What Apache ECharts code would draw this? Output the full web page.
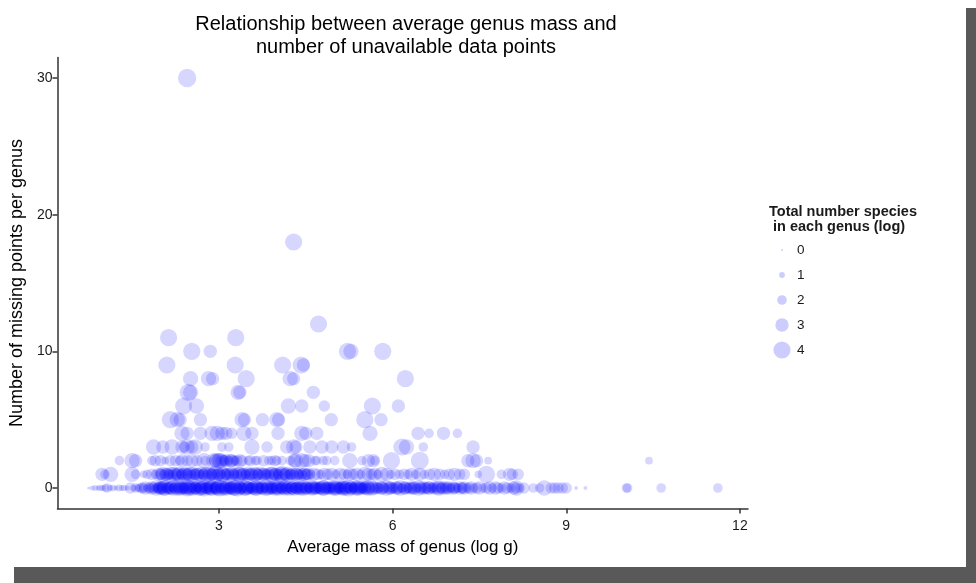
<!DOCTYPE html>
<html>
<head>
<meta charset="utf-8">
<script src="https://cdn.jsdelivr.net/npm/echarts@6/dist/echarts.min.js"></script>
<style>
  html, body { margin: 0; padding: 0; background: #ffffff; }
  #chart { width: 976px; height: 583px; }
</style>
</head>
<body>
<div id="chart"></div>
<script>
// Genera grouped by number of missing data points.
// Each entry: [average genus mass (log g), total species in genus (log)]
const missing0 = [
  [0.75,0.3],[0.81,0.8],[0.86,1],[0.91,0.8],[0.95,1.2],[0.99,1],[1.04,1.5],[1.07,2],[1.12,1],[1.17,1.2],
  [1.22,0.8],[1.27,1.3],[1.32,1],[1.36,1.2],[1.42,0.8],[1.47,2.5],[1.52,1.2],[1.56,2],[1.60,1.5],[1.64,2],
  [1.67,2.5],[1.70,2],[1.73,3],[1.76,1.5],[1.79,2.5],[1.82,2],[1.84,3],[1.87,2.5],[1.90,1.5],[1.92,3.5],
  [1.94,2],[1.96,2.5],[1.98,3],[2.00,2],
  [2.02,3],[2.04,2.5],[2.07,3.5],[2.09,2],[2.12,3],[2.14,2.5],[2.16,3],[2.19,1.5],[2.21,3.5],[2.24,2.5],
  [2.26,3],[2.29,2],[2.31,2.5],[2.33,3.5],[2.36,2.5],[2.38,3],[2.41,2],[2.43,3],[2.45,4],[2.48,2.5],
  [2.50,3],[2.53,2],[2.55,3.5],[2.58,2.5],[2.60,3],[2.62,2],[2.65,3.5],[2.67,2.5],[2.70,3],[2.72,2],
  [2.74,4],[2.77,2.5],[2.79,3],[2.82,2],[2.84,3],[2.86,3.5],[2.89,2.5],[2.91,2],[2.94,3],[2.96,2.5],
  [2.98,3.5],[3.01,4],[3.03,2.5],[3.06,2],[3.08,3],[3.10,2.5],[3.13,3.5],[3.15,2],[3.18,3],[3.20,2.5],
  [3.22,3],[3.25,2],[3.27,3.5],[3.30,2.5],[3.32,4],[3.34,2],[3.37,3],[3.39,2.5],[3.42,3],[3.44,2],
  [3.46,3.5],[3.49,2.5],[3.51,3],[3.54,2],[3.56,2.5],[3.58,3],[3.61,2],[3.63,3.5],[3.66,2.5],[3.68,3],
  [3.70,2],[3.73,2.5],[3.75,3],[3.78,2],[3.80,3.5],[3.82,2.5],[3.85,3],[3.87,2],[3.90,2.5],[3.92,3],
  [3.94,2],[3.97,3.5],[3.99,2.5],[4.02,3],[4.04,2],[4.06,2.5],[4.09,3],[4.11,2],[4.14,3.5],[4.16,2.5],
  [4.18,3],[4.21,2],[4.23,2.5],[4.26,3],[4.28,2],[4.30,3.5],[4.33,2.5],[4.35,3],[4.38,2],[4.40,2.5],
  [4.42,3],[4.45,2],[4.47,3.5],[4.50,2.5],[4.52,3],[4.54,2],[4.57,2.5],[4.59,3],[4.62,2],[4.64,3],
  [4.66,2.5],[4.69,3],[4.71,2],[4.74,2.5],[4.76,3],[4.78,2],[4.81,3.5],[4.83,2.5],[4.86,3],[4.88,2],
  [4.90,2.5],[4.93,3],[4.95,2],[4.98,3],[5.00,2.5],[5.02,3.5],[5.05,2],[5.07,2.5],[5.10,3],[5.12,2],
  [5.14,3.5],[5.17,2.5],[5.19,3],[5.22,2],[5.24,4],[5.26,2.5],[5.29,3],[5.31,2],[5.34,2.5],[5.36,3],
  [5.38,2],[5.41,3.5],[5.43,2.5],[5.46,3],[5.48,2],[5.50,2.5],[5.53,3],[5.55,2],[5.58,3],
  [5.61,2.5],[5.64,3.5],[5.68,2],[5.71,3],[5.75,2.5],[5.78,2],[5.82,3],[5.85,2.5],[5.89,3.5],[5.92,2],
  [5.96,3],[5.99,2.5],[6.03,2],[6.06,3],[6.10,2.5],[6.13,3.5],[6.17,2],[6.20,3],[6.24,2.5],[6.27,2],
  [6.31,3],[6.34,2.5],[6.38,3],[6.41,2],[6.45,3.5],[6.48,2.5],[6.52,2],[6.55,3],[6.59,2.5],[6.62,3],
  [6.66,2],[6.69,2.5],[6.73,3],[6.76,2],[6.80,3.5],[6.83,2.5],[6.87,3],[6.90,2],[6.94,2.5],[6.97,3],
  [7.01,2],[7.05,3],[7.08,2.5],[7.12,2],[7.16,3],[7.20,2.5],[7.24,3],[7.28,2],[7.32,2.5],[7.36,3],
  [7.40,2],[7.45,2.5],
  [7.50,3],[7.56,2],[7.62,2.5],[7.68,3],[7.72,2],[7.78,3],[7.82,2.5],[7.88,2],[7.93,3],[7.98,2.5],
  [8.04,2],[8.09,3],[8.14,3.5],[8.14,2.5],[8.20,2],[8.27,2.5],
  [8.43,2],[8.54,2],[8.62,3.5],[8.74,2.5],[8.80,2.5],[8.86,2.5],[8.93,2.5],[9.00,2.5],[9.17,0.5],[9.33,0.5],
  [10.04,2],[10.06,2],[10.64,2],[11.62,2],
  [1.93,2.5],[1.99,3],[2.05,3.5],[2.11,2.5],[2.17,3],[2.22,2],[2.28,3.5],[2.34,3],[2.39,2.5],[2.44,3],
  [2.49,3.5],[2.54,2.5],[2.59,3],[2.64,2],[2.69,3.5],[2.73,3],[2.78,2.5],[2.83,3],[2.88,3.5],[2.93,2.5],
  [2.97,3],[3.02,2],[3.07,3.5],[3.12,3],[3.17,2.5],[3.21,3],[3.26,3.5],[3.31,2.5],[3.36,3],[3.41,2],
  [3.45,3.5],[3.50,3],[3.55,2.5],[3.60,3],[3.65,3.5],[3.69,2.5],[3.74,3],[3.79,2],[3.84,3.5],[3.89,3],
  [3.93,2.5],[3.98,3],[4.03,3.5],[4.08,2.5],[4.13,3],[4.17,2],[4.22,3.5],[4.27,3],[4.32,2.5],[4.37,3],
  [4.41,3.5],[4.46,2.5],[4.51,3],[4.56,2],[4.61,3.5],[4.65,3],[4.70,2.5],[4.75,3],[4.80,3.5],[4.85,2.5],
  [4.89,3],[4.94,2],[4.99,3.5],[5.04,3],[5.09,2.5],[5.13,3],[5.18,3.5],[5.23,2.5],[5.28,3],[5.33,2],
  [5.37,3.5],[5.42,3],[5.47,2.5],[5.52,3],[5.57,3.5],
  [5.66,3],[5.73,2.5],[5.80,3],[5.87,2],[5.94,3],[6.01,2.5],[6.08,3],[6.15,2],[6.22,3],[6.29,2.5],
  [6.36,3],[6.43,2],[6.50,3],[6.57,2.5],[6.64,3],[6.71,2],[6.78,3],[6.85,2.5],[6.92,3],[6.99,2],
  [7.06,2.5],[7.14,2],[7.22,2.5]
];

const missing1 = [
  [0.98,3],[1.03,2],[1.13,3.5],[1.50,3.5],[1.56,2],[1.70,1.5],[1.76,2],[1.84,2.5],[1.90,2],
  [1.96,3],[1.99,2.5],[2.03,3.5],[2.06,2],[2.10,3],[2.13,2.5],[2.17,3.5],[2.20,2],[2.24,3],[2.27,2.5],
  [2.31,3.5],[2.34,2],[2.38,3],[2.41,3.5],[2.45,2.5],[2.48,3],[2.52,2],[2.55,3.5],[2.59,2.5],[2.62,3],
  [2.66,2],[2.69,3.5],[2.73,2.5],[2.76,3],[2.80,2],[2.83,3.5],[2.87,2.5],[2.90,3],[2.94,4],[2.97,2.5],
  [3.01,3],[3.04,2],[3.08,3.5],[3.11,2.5],[3.15,3],[3.18,2],[3.22,3.5],[3.25,2.5],[3.29,3],[3.32,2],
  [3.36,3.5],[3.39,2.5],[3.43,3],[3.46,2],[3.50,3.5],[3.53,2.5],[3.57,3],[3.60,2],[3.64,3],[3.67,2.5],
  [3.71,3.5],[3.74,2],[3.78,3],[3.81,2.5],[3.85,3],[3.88,2],[3.92,3.5],[3.95,2.5],[3.99,3],[4.02,2],
  [4.06,3.5],[4.09,4],[4.13,2.5],[4.16,3],[4.20,2],[4.23,2.5],[4.27,3],[4.30,2],[4.34,3],[4.37,2.5],
  [4.41,3],[4.44,2],[4.48,3],[4.51,2.5],[4.55,3],[4.58,2],
  [4.64,3],[4.70,2.5],[4.76,2],[4.82,3],[4.88,2.5],[4.95,3],[5.02,2],[5.09,3],[5.16,2.5],[5.22,2],
  [5.26,3],[5.32,2.5],[5.38,3],[5.45,2],[5.52,3.5],[5.58,3],[5.64,2.5],[5.69,3],[5.75,2],[5.81,3.5],
  [5.90,3],[5.97,2],[6.04,2.5],[6.12,2],[6.20,2.5],[6.27,2],[6.33,3],[6.40,2],[6.47,3],[6.55,2],
  [6.64,2.5],[6.72,3],[6.81,2.5],[6.90,2],[6.98,2.5],[7.07,3],[7.16,2.5],[7.24,2.5],
  [7.48,1.5],[7.62,4],[7.88,2],[8.02,3],[8.07,2.5],[8.17,2.5],
  [2.01,2.5],[2.08,3],[2.15,2],[2.22,3.5],[2.29,3],[2.36,2.5],[2.43,3],[2.50,3.5],[2.57,2.5],[2.64,3],
  [2.71,2],[2.78,3.5],[2.85,3],[2.92,2.5],[2.99,3],[3.06,3.5],[3.13,2.5],[3.20,3],[3.27,2],[3.34,3.5],
  [3.41,3],[3.48,2.5],[3.55,3],[3.62,3.5],[3.69,2.5],[3.76,3],[3.83,2],[3.90,3.5],[3.97,3],[4.04,2.5],
  [4.11,3],[4.18,3.5],[4.25,2.5],[4.32,3],[4.39,2],[4.46,3],[4.53,2.5]
];

const missing2 = [
  [1.28,2],[1.50,3.5],[1.56,3],[1.84,2],[1.90,2.5],[1.99,2.5],[2.07,1.5],[2.16,2.5],[2.25,2.5],[2.33,2],
  [2.36,3],[2.45,2.5],[2.53,3],[2.62,2.5],[2.74,3.5],[2.76,2],[2.91,3.5],[2.94,3],[2.96,3.5],[3.00,3.5],
  [3.02,3.5],[3.05,3],[3.08,2.5],[3.11,2.5],[3.13,3],[3.17,2],[3.20,3],[3.22,3],[3.25,2.5],[3.28,2],
  [3.31,2.5],[3.36,3],[3.40,2.5],[3.51,2],[3.54,2.5],[3.63,2],[3.66,2],[3.77,2.5],[3.86,2],[3.91,2],
  [3.97,2.5],[4.00,2],[4.09,2],[4.23,2],[4.31,3],[4.32,3.5],[4.43,3.5],[4.49,3],[4.55,3],[4.66,2],
  [4.69,2],[4.80,2],[4.86,2],[5.00,2],[5.26,3.5],[5.47,2],[5.58,3],[5.67,3],[5.69,2],[5.98,4],
  [6.47,4.2],[7.30,3],[7.39,3.5],[7.45,3],[7.65,1.5],[10.43,1.5]
];

const missing3 = [
  [1.87,3.5],[2.03,3],[2.19,3.5],[2.36,3],[2.40,2.5],[2.45,3.5],[2.53,3],[2.59,3.5],[2.76,2],[3.05,2],
  [3.17,2],[3.57,3.5],[3.83,2.5],[4.17,3],[4.29,3.5],[4.33,3],[4.57,3],[4.78,3],[4.95,3],[5.15,3],
  [5.29,2],[6.16,4],[6.24,3.5],[6.53,2],[7.39,3]
];

const missing4 = [
  [2.36,3.5],[2.45,3],[2.68,3],[2.88,3.5],[2.97,3.5],[3.05,3],[3.12,3],[3.22,2.5],[3.43,3.5],[3.57,3],
  [4.02,3],[4.43,3.5],[4.50,3],[4.69,3],[5.61,3.5],[6.44,3],[6.63,2],[6.88,3],[7.12,2]
];

const missing5 = [
  [2.16,4],[2.28,3.5],[2.33,3],[2.68,3],[3.40,3.5],[3.44,3],[3.75,3],[4.00,3.5],[4.03,3],[4.94,3],
  [5.52,4],[5.80,3]
];

const missing6 = [[2.39,4],[2.61,3.5],[4.20,3.5],[4.43,3],[4.82,2.5],[5.65,4],[6.10,3]];
const missing7 = [[2.47,4],[2.51,3.5],[3.33,3.5],[3.36,3],[4.63,3]];
const missing8 = [[2.51,3.5],[2.82,3.5],[2.89,3],[3.47,4],[4.23,3.5],[4.29,3],[6.22,4]];
const missing9 = [[2.10,4],[3.28,4],[4.10,4],[4.42,4],[4.46,3]];
const missing10 = [[2.53,4],[2.85,3],[5.22,4],[5.28,3.5],[5.83,4]];
const missing11 = [[2.13,4],[3.29,4]];
const missing12 = [[4.72,4]];
const missing18 = [[4.29,4]];
const missing30 = [[2.45,4.3]];

const rows = [
  [0, missing0], [1, missing1], [2, missing2], [3, missing3], [4, missing4], [5, missing5],
  [6, missing6], [7, missing7], [8, missing8], [9, missing9], [10, missing10], [11, missing11],
  [12, missing12], [18, missing18], [30, missing30]
];

const xTicks = [3, 6, 9, 12];
const yTicks = [0, 10, 20, 30];
const legendLevels = [0, 1, 2, 3, 4];

// Marker diameter (px) for a log species count
const sizeOf = s => 2 + 3.8 * s;
const pointColor = 'rgba(0,0,255,0.2)';
const font = '"Liberation Sans", Arial, sans-serif';
const ink = '#1a1a1a';

const points = [];
rows.forEach(([missing, list]) => {
  list.forEach(([mass, species]) => points.push([mass, missing, species]));
});

const chart = echarts.init(document.getElementById('chart'), null, { renderer: 'canvas' });

const legendGraphics = [
  {
    type: 'text', left: 769, top: 204,
    style: {
      text: 'Total number species\n in each genus (log)',
      font: 'bold 14.5px ' + font, fill: ink, lineHeight: 15
    }
  }
];
legendLevels.forEach((lv, i) => {
  const cy = 250 + i * 25;
  legendGraphics.push({
    type: 'circle', shape: { cx: 782, cy: cy, r: sizeOf(lv) / 2 },
    style: { fill: pointColor }
  });
  legendGraphics.push({
    type: 'text', x: 797, y: cy,
    style: { text: String(lv), font: '13.5px ' + font, fill: ink, verticalAlign: 'middle' }
  });
});

// frame shadow along the right and bottom edges
const frameGraphics = [
  { type: 'rect', shape: { x: 966, y: 8, width: 10, height: 575 }, style: { fill: '#595959' }, z: 100 },
  { type: 'rect', shape: { x: 14, y: 567, width: 962, height: 16 }, style: { fill: '#595959' }, z: 100 }
];

chart.setOption({
  animation: false,
  backgroundColor: '#ffffff',
  title: {
    text: 'Relationship between average genus mass and\nnumber of unavailable data points',
    left: 401, top: 8, textAlign: 'center',
    textStyle: { fontFamily: font, fontSize: 20, fontWeight: 'normal', color: '#000', lineHeight: 23 }
  },
  grid: { left: 55, right: 228, top: 57.5, bottom: 74.5, containLabel: false },
  xAxis: {
    type: 'value', min: 0.21, max: 12.14,
    name: 'Average mass of genus (log g)', nameLocation: 'middle', nameGap: 29,
    nameTextStyle: { fontFamily: font, fontSize: 17, color: '#000' },
    axisLine: { onZero: false, lineStyle: { color: '#333', width: 1.5 } },
    axisTick: { show: true, length: 5, customValues: xTicks, lineStyle: { color: '#333', width: 1.5 } },
    axisLabel: { customValues: xTicks, fontFamily: font, fontSize: 14, color: ink, margin: 11 },
    splitLine: { show: false }
  },
  yAxis: {
    type: 'value', min: -1.5, max: 31.5,
    name: 'Number of missing points per genus', nameLocation: 'middle', nameGap: 29,
    nameTextStyle: { fontFamily: font, fontSize: 18, color: '#000' },
    axisLine: { onZero: false, lineStyle: { color: '#333', width: 1.5 } },
    axisTick: { show: true, length: 5, customValues: yTicks, lineStyle: { color: '#333', width: 1.5 } },
    axisLabel: { customValues: yTicks, fontFamily: font, fontSize: 14, color: ink, margin: 5 },
    splitLine: { show: false }
  },
  series: [{
    type: 'scatter',
    data: points,
    symbol: 'circle',
    symbolSize: v => sizeOf(v[2]),
    itemStyle: { color: pointColor },
    emphasis: { disabled: true },
    silent: true
  }],
  graphic: legendGraphics.concat(frameGraphics)
});
</script>
</body>
</html>
